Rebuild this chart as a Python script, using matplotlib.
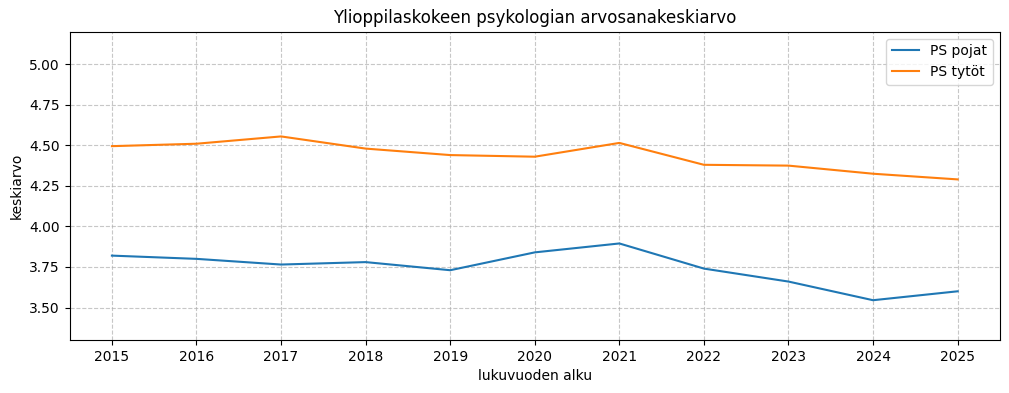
import matplotlib
matplotlib.use("Agg")
import matplotlib.pyplot as plt

years = [2015, 2016, 2017, 2018, 2019, 2020, 2021, 2022, 2023, 2024, 2025]
ps_pojat = [3.82, 3.80, 3.765, 3.78, 3.73, 3.84, 3.895, 3.74, 3.66, 3.545, 3.60]
ps_tytot = [4.495, 4.51, 4.555, 4.48, 4.44, 4.43, 4.515, 4.38, 4.375, 4.325, 4.29]

fig, ax = plt.subplots(figsize=(10.09, 3.93), dpi=100)
ax.plot(years, ps_pojat, label="PS pojat")
ax.plot(years, ps_tytot, label="PS tytöt")

ax.set_title("Ylioppilaskokeen psykologian arvosanakeskiarvo")
ax.set_xlabel("lukuvuoden alku")
ax.set_ylabel("keskiarvo")
ax.set_xticks(years)
ax.set_ylim(3.3, 5.2)
ax.set_yticks([3.5, 3.75, 4.0, 4.25, 4.5, 4.75, 5.0])
ax.grid(True, linestyle="--", alpha=0.7)
ax.legend(loc="upper right")

fig.subplots_adjust(left=0.069, right=0.991, top=0.919, bottom=0.135)
fig.savefig("out.png")
